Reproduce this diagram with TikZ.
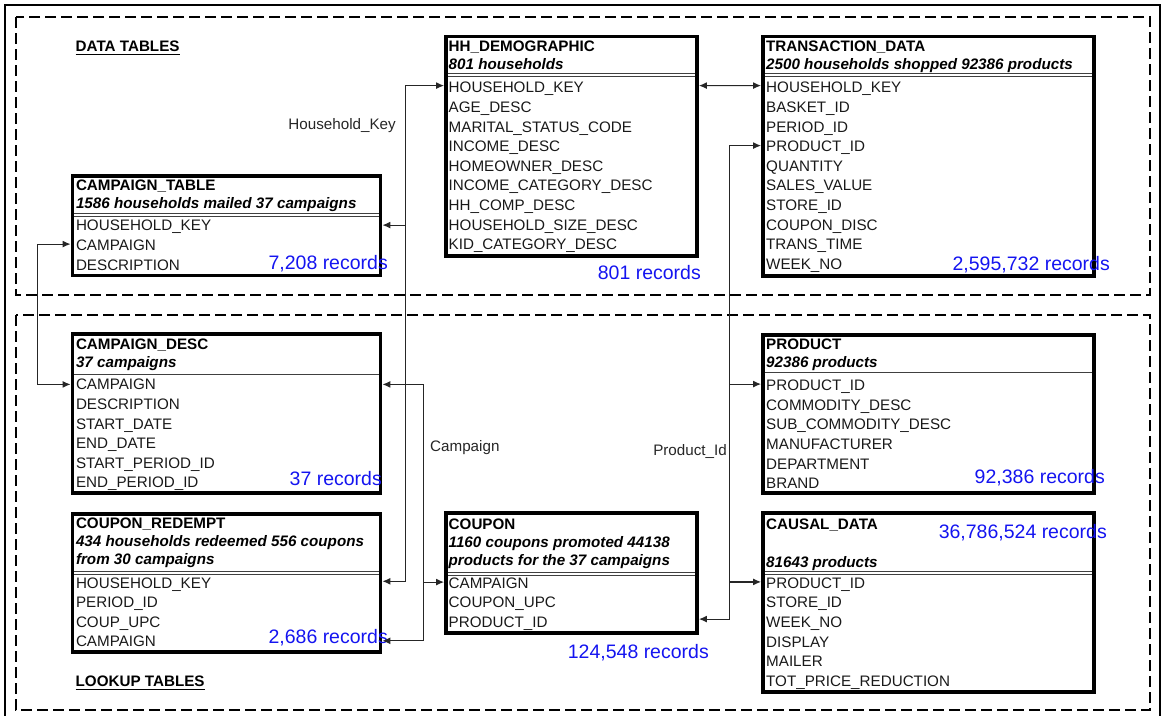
\documentclass[tikz,border=0pt]{standalone}
\usepackage{fontspec}
\setmainfont{Liberation Sans}
\usetikzlibrary{arrows.meta,calc}
\definecolor{recblue}{RGB}{20,20,240}

\tikzset{
  tbl/.style={draw, line width=3.8pt, inner sep=0pt},
  hdr/.style={anchor=north west, inner sep=0pt, align=left, font=\fontsize{15.2}{18}\selectfont\bfseries},
  flds/.style={anchor=north west, inner sep=0pt, align=left, text=black!90, font=\fontsize{15.2}{19.6}\selectfont},
  recs/.style={anchor=base east, inner sep=0pt, text=recblue, font=\fontsize{19.5}{20}\selectfont},
  keylbl/.style={inner sep=0pt, text=black!85, font=\fontsize{15.2}{18}\selectfont},
  sect/.style={anchor=base west, inner sep=0pt, font=\fontsize{15.2}{18}\selectfont\bfseries},
  sepln/.style={draw=black!75, line width=0.8pt, double=white, double distance=2pt, shorten >=3.5pt, shorten <=3.5pt},
  link/.style={draw=black!85, line width=1.2pt, >={Latex[length=8pt,width=7pt]}, ->},
  both/.style={link, <->},
  zone/.style={line width=2.6pt, dash pattern=on 11pt off 5pt},
}

\begin{document}
\begin{tikzpicture}[x=1pt,y=-1pt]
\useasboundingbox (0,0) rectangle (1162,715);

% frame and the two zones
\draw[line width=1.3pt] (5,720) -- (5,5) -- (1160,5) -- (1160,720);
\draw[zone] (16,17) rectangle (1150,295);
\draw[zone] (16,315) rectangle (1150,710);
\node[sect] (datalbl) at (75.5,51.5) {DATA TABLES};
\draw[line width=1.2pt] ($(datalbl.base west)+(0,3)$) -- ($(datalbl.base east)+(0,3)$);
\node[sect] (lookuplbl) at (75.5,686.5) {LOOKUP TABLES};
\draw[line width=1.2pt] ($(lookuplbl.base west)+(0,3)$) -- ($(lookuplbl.base east)+(0,3)$);

% CAMPAIGN_TABLE
\node[tbl, minimum width=308, minimum height=99.5] (ct) at (226.5,225.75) {};
\draw[sepln] ($(ct.north west)+(0,41)$) -- ($(ct.north east)+(0,41)$);
\node[hdr] (ct-head) at (75.8,180.1) {CAMPAIGN\_TABLE\\\textit{1586 households mailed 37 campaigns}};
\node[flds] (ct-rows) at (75.8,220.1) {HOUSEHOLD\_KEY\\CAMPAIGN\\DESCRIPTION};

% HH_DEMOGRAPHIC
\node[tbl, minimum width=251, minimum height=219.5] (hh) at (571.5,146.25) {};
\draw[sepln] ($(hh.north west)+(0,40.25)$) -- ($(hh.north east)+(0,40.25)$);
\node[hdr] (hh-head) at (448.5,41.1) {HH\_DEMOGRAPHIC\\\textit{801 households}};
\node[flds] (hh-rows) at (448.5,82.1) {HOUSEHOLD\_KEY\\AGE\_DESC\\MARITAL\_STATUS\_CODE\\INCOME\_DESC\\HOMEOWNER\_DESC\\INCOME\_CATEGORY\_DESC\\HH\_COMP\_DESC\\HOUSEHOLD\_SIZE\_DESC\\KID\_CATEGORY\_DESC};

% TRANSACTION_DATA
\node[tbl, minimum width=331, minimum height=239.2] (tr) at (928.5,156.1) {};
\draw[sepln] ($(tr.north west)+(0,40.25)$) -- ($(tr.north east)+(0,40.25)$);
\node[hdr] (tr-head) at (766,41.1) {TRANSACTION\_DATA\\\textit{2500 households shopped 92386 products}};
\node[flds] (tr-rows) at (766,82.1) {HOUSEHOLD\_KEY\\BASKET\_ID\\PERIOD\_ID\\PRODUCT\_ID\\QUANTITY\\SALES\_VALUE\\STORE\_ID\\COUPON\_DISC\\TRANS\_TIME\\WEEK\_NO};

% CAMPAIGN_DESC
\node[tbl, minimum width=308, minimum height=159] (cd) at (226.5,413.8) {};
\draw[sepln] ($(cd.north west)+(0,41)$) -- ($(cd.north east)+(0,41)$);
\node[hdr] (cd-head) at (75.8,338.6) {CAMPAIGN\_DESC\\\textit{37 campaigns}};
\node[flds] (cd-rows) at (75.8,379.1) {CAMPAIGN\\DESCRIPTION\\START\_DATE\\END\_DATE\\START\_PERIOD\_ID\\END\_PERIOD\_ID};

% COUPON_REDEMPT
\node[tbl, minimum width=308, minimum height=138.6] (cr) at (226.5,583) {};
\draw[sepln] ($(cr.north west)+(0,61.3)$) -- ($(cr.north east)+(0,61.3)$);
\node[hdr] (cr-head) at (75.8,518.1) {COUPON\_REDEMPT\\\textit{434 households redeemed 556 coupons}\\\textit{from 30 campaigns}};
\node[flds] (cr-rows) at (75.8,577.2) {HOUSEHOLD\_KEY\\PERIOD\_ID\\COUP\_UPC\\CAMPAIGN};

% COUPON
\node[tbl, minimum width=251, minimum height=119.7] (cp) at (571.5,572.85) {};
\draw[sepln] ($(cp.north west)+(0,62.75)$) -- ($(cp.north east)+(0,62.75)$);
\node[hdr] (cp-head) at (448.5,518.4) {COUPON\\\textit{1160 coupons promoted 44138}\\\textit{products for the 37 campaigns}};
\node[flds] (cp-rows) at (448.5,577.4) {CAMPAIGN\\COUPON\_UPC\\PRODUCT\_ID};

% PRODUCT
\node[tbl, minimum width=331, minimum height=158.3] (pr) at (928.5,414.15) {};
\draw[sepln] ($(pr.north west)+(0,40.5)$) -- ($(pr.north east)+(0,40.5)$);
\node[hdr] (pr-head) at (766,339.1) {PRODUCT\\\textit{92386 products}};
\node[flds] (pr-rows) at (766,379.8) {PRODUCT\_ID\\COMMODITY\_DESC\\SUB\_COMMODITY\_DESC\\MANUFACTURER\\DEPARTMENT\\BRAND};

% CAUSAL_DATA
\node[tbl, minimum width=331, minimum height=179] (cs) at (928.5,602.8) {};
\draw[sepln] ($(cs.north west)+(0,61.75)$) -- ($(cs.north east)+(0,61.75)$);
\node[hdr] (cs-head) at (766,518.4) {CAUSAL\_DATA\\[20pt]\textit{81643 products}};
\node[flds] (cs-rows) at (766,577.4) {PRODUCT\_ID\\STORE\_ID\\WEEK\_NO\\DISPLAY\\MAILER\\TOT\_PRICE\_REDUCTION};

% record counts
\node[recs] (ct-recs) at (388,269) {7,208 records};
\node[recs] (hh-recs) at (701,279) {801 records};
\node[recs] (tr-recs) at (1110,270) {2,595,732 records};
\node[recs] (cd-recs) at (382,485) {37 records};
\node[recs] (cr-recs) at (388,643) {2,686 records};
\node[recs] (cp-recs) at (709,658) {124,548 records};
\node[recs] (pr-recs) at (1105,483) {92,386 records};
\node[recs] (cs-recs) at (1107,538) {36,786,524 records};

% Household_Key links
\draw[both] ($(ct.north east)+(0,51)$) -- ++(23,0) |- ($(hh.north west)+(0,51)$);
\draw[link] ($(ct.north east)+(23,51)$) |- ($(cr.north east)+(0,69.5)$);
\draw[both] ($(hh.north east)+(0,51)$) -- ($(tr.north west)+(0,51)$);
\node[keylbl, anchor=base east] (hk-lbl) at (396,129.5) {Household\_Key};

% Campaign links
\draw[both] ($(ct.north west)+(0,70)$) -- ++(-33,0) |- ($(cd.north west)+(0,52)$);
\draw[both] ($(cd.north east)+(0,52)$) -- ++(41,0) |- ($(cr.north east)+(0,129)$);
\draw[link] ($(cp.north west)+(-21,71)$) -- ($(cp.north west)+(0,71)$);
\node[keylbl, anchor=base west] (camp-lbl) at (430,451) {Campaign};

% Product_Id links
\draw[both] ($(tr.north west)+(0,111)$) -- ++(-32,0) |- ($(cp.north east)+(0,108)$);
\draw[link] ($(tr.north west)+(-32,111)$) |- ($(pr.north west)+(0,51)$);
\draw[link] ($(tr.north west)+(-32,111)$) |- ($(cs.north west)+(0,70.5)$);
\node[keylbl, anchor=base east] (pid-lbl) at (727,455) {Product\_Id};
\end{tikzpicture}
\end{document}
